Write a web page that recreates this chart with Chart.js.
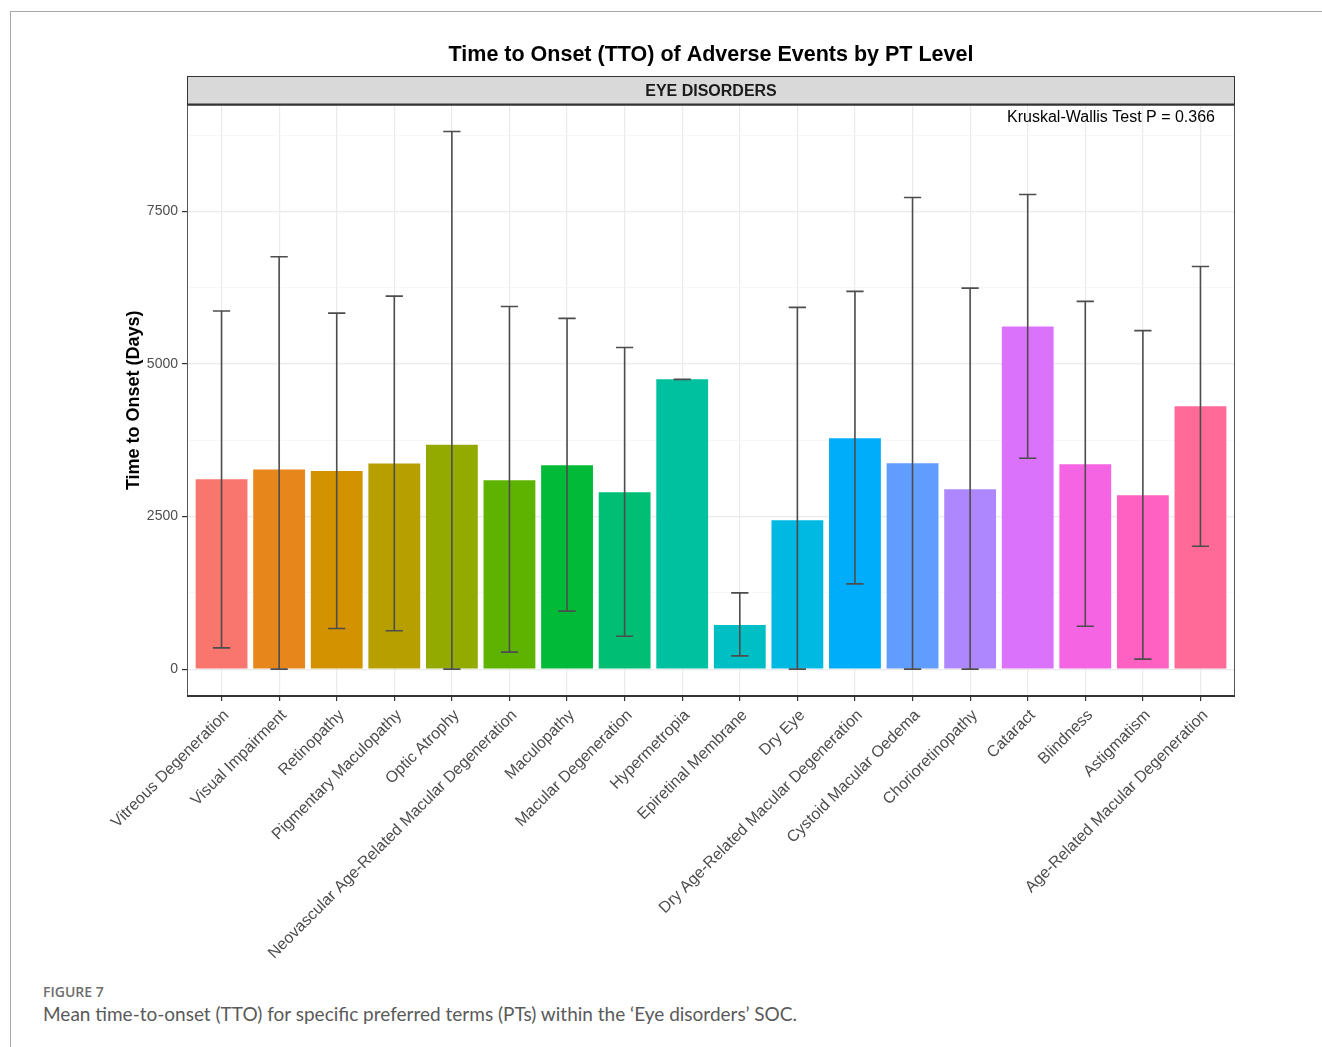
<!DOCTYPE html>
<html>
<head>
<meta charset="utf-8">
<title>Time to Onset by PT Level</title>
<script src="https://cdn.jsdelivr.net/npm/chart.js"></script>
<style>
  body { margin: 0; background: #fff; }
  .frame {
    position: absolute; left: 10px; top: 11px; right: 0; bottom: 0;
    border-top: 1px solid #a8a8a8; border-left: 1px solid #a8a8a8;
  }
  #ttoChart { position: absolute; left: 0; top: 0; }
  .fig-label {
    position: absolute; left: 43px; top: 982px;
    font: 600 14px "Open Sans", sans-serif; color: #6e6e6e;
  }
  .fig-caption {
    position: absolute; left: 43px; top: 1002px;
    font: 400 19px Lato, sans-serif; color: #5a5a5a;
  }
</style>
</head>
<body>
<div class="frame"></div>
<canvas id="ttoChart" width="1322" height="975"></canvas>
<div class="fig-label">FIGURE 7</div>
<div class="fig-caption">Mean time-to-onset (TTO) for specific preferred terms (PTs) within the ‘Eye disorders’ SOC.</div>

<script>
// Preferred terms (x axis order)
const ptTerms = [
  "Vitreous Degeneration", "Visual Impairment", "Retinopathy", "Pigmentary Maculopathy",
  "Optic Atrophy", "Neovascular Age-Related Macular Degeneration", "Maculopathy",
  "Macular Degeneration", "Hypermetropia", "Epiretinal Membrane", "Dry Eye",
  "Dry Age-Related Macular Degeneration", "Cystoid Macular Oedema", "Chorioretinopathy",
  "Cataract", "Blindness", "Astigmatism", "Age-Related Macular Degeneration"
];

// Mean TTO in days, with the error bar ends
const meanTTO  = [3110, 3269, 3246, 3367, 3678, 3095, 3340, 2898, 4747, 725, 2440, 3781, 3372, 2947, 5615, 3356, 2848, 4305];
const lowerTTO = [349, 0, 666, 628, 0, 278, 950, 540, 4747, 218, 0, 1397, 0, 0, 3454, 702, 164, 2013];
const upperTTO = [5866, 6756, 5833, 6111, 8807, 5942, 5746, 5270, 4747, 1249, 5926, 6188, 7727, 6242, 7776, 6024, 5545, 6597];

// ggplot-style hue palette, one colour per term
const barColors = [
  "#F8766D", "#E7861B", "#D39200", "#B79F00", "#93AA00", "#5EB300", "#00BA38", "#00BF74", "#00C19F",
  "#00BFC4", "#00B9E3", "#00ADFA", "#619CFF", "#AE87FF", "#DB72FB", "#F564E3", "#FF61C3", "#FF6A98"
];

const yTicks = [0, 1250, 2500, 3750, 5000, 6250, 7500, 8750];
const yMajorStep = 2500;

const chartTitle = "Time to Onset (TTO) of Adverse Events by PT Level";
const stripLabel = "EYE DISORDERS";
const testLabel = "Kruskal-Wallis Test P = 0.366";

const FONT = '"Liberation Sans", Arial, sans-serif';
const isMajor = (c) => c.tick && c.tick.value % yMajorStep === 0;

// error bars drawn on top of the bars
const errorBars = {
  id: "errorBars",
  afterDatasetsDraw(chart) {
    const { ctx } = chart;
    const x = chart.scales.x, y = chart.scales.y;
    const half = (x.getPixelForValue(1) - x.getPixelForValue(0)) * 0.15;
    ctx.save();
    ctx.strokeStyle = "#4D4D4D";
    ctx.lineWidth = 1.6;
    for (let i = 0; i < ptTerms.length; i++) {
      const cx = x.getPixelForValue(i);
      const yl = y.getPixelForValue(lowerTTO[i]);
      const yu = y.getPixelForValue(upperTTO[i]);
      ctx.beginPath();
      ctx.moveTo(cx, yl); ctx.lineTo(cx, yu);
      ctx.moveTo(cx - half, yl); ctx.lineTo(cx + half, yl);
      ctx.moveTo(cx - half, yu); ctx.lineTo(cx + half, yu);
      ctx.stroke();
    }
    ctx.restore();
  }
};

// title, facet strip, panel border and test annotation
const panelDecor = {
  id: "panelDecor",
  afterDraw(chart) {
    const { ctx, chartArea: a } = chart;
    const stripTop = 76;
    ctx.save();
    ctx.fillStyle = "#000";
    ctx.textAlign = "center";
    ctx.textBaseline = "middle";
    ctx.font = "bold 21.5px " + FONT;
    ctx.fillText(chartTitle, (a.left + a.right) / 2, 55);

    ctx.fillStyle = "#D9D9D9";
    ctx.fillRect(a.left, stripTop, a.right - a.left, a.top - stripTop);
    ctx.strokeStyle = "#333";
    ctx.lineWidth = 1;
    ctx.strokeRect(a.left + 0.5, stripTop + 0.5, a.right - a.left - 1, a.top - stripTop);
    ctx.fillStyle = "#1A1A1A";
    ctx.font = "bold 16px " + FONT;
    ctx.fillText(stripLabel, (a.left + a.right) / 2, (stripTop + a.top) / 2 + 1);

    ctx.strokeStyle = "#555";
    ctx.strokeRect(a.left + 0.5, a.top, a.right - a.left - 1, a.bottom - a.top);
    ctx.strokeStyle = "#333";
    ctx.lineWidth = 2;
    ctx.beginPath();
    ctx.moveTo(a.left, a.top); ctx.lineTo(a.right, a.top);
    ctx.moveTo(a.left, a.bottom); ctx.lineTo(a.right, a.bottom);
    ctx.stroke();

    ctx.fillStyle = "#000";
    ctx.font = "16px " + FONT;
    ctx.textAlign = "right";
    ctx.fillText(testLabel, a.right - 20, a.top + 13);
    ctx.restore();
  }
};

new Chart(document.getElementById("ttoChart"), {
  type: "bar",
  data: {
    datasets: [{
      data: meanTTO.map((v, i) => ({ x: i, y: v })),
      backgroundColor: barColors,
      borderWidth: 0,
      categoryPercentage: 0.9,
      barPercentage: 1.0
    }]
  },
  options: {
    responsive: false,
    animation: false,
    layout: { padding: { left: 0, top: 104.5, right: 87, bottom: 0 } },
    plugins: {
      legend: { display: false },
      tooltip: { enabled: false }
    },
    scales: {
      x: {
        type: "linear",
        min: -0.6,
        max: ptTerms.length - 0.4,
        offset: false,
        afterFit: (scale) => { scale.height = 279; },
        afterBuildTicks: (scale) => { scale.ticks = ptTerms.map((t, i) => ({ value: i })); },
        grid: {
          offset: false,
          color: "#EBEBEB",
          lineWidth: 1.2,
          tickLength: 5,
          tickColor: "#333",
          tickWidth: 1.2
        },
        border: { display: false },
        ticks: {
          minRotation: 45,
          maxRotation: 45,
          autoSkip: false,
          padding: 5,
          labelOffset: 5,
          color: "#4D4D4D",
          font: { family: FONT, size: 16 },
          callback: (v) => ptTerms[v]
        }
      },
      y: {
        min: -440,
        max: 9250,
        afterFit: (scale) => { scale.width = 187; },
        afterBuildTicks: (scale) => { scale.ticks = yTicks.map(v => ({ value: v })); },
        grid: {
          color: (c) => (isMajor(c) ? "#EBEBEB" : "#F4F4F4"),
          lineWidth: (c) => (isMajor(c) ? 1.2 : 0.7),
          tickLength: 5,
          tickColor: (c) => (isMajor(c) ? "#333" : "rgba(0,0,0,0)"),
          tickWidth: 1.2
        },
        border: { display: false },
        ticks: {
          padding: 4,
          color: "#4D4D4D",
          font: { family: FONT, size: 14 },
          callback: (v) => (v % yMajorStep === 0 ? String(v) : "")
        },
        title: {
          display: true,
          text: "Time to Onset (Days)",
          color: "#000",
          font: { family: FONT, size: 18, weight: "bold" },
          padding: { top: 123, bottom: 0 }
        }
      }
    }
  },
  plugins: [errorBars, panelDecor]
});
</script>
</body>
</html>
